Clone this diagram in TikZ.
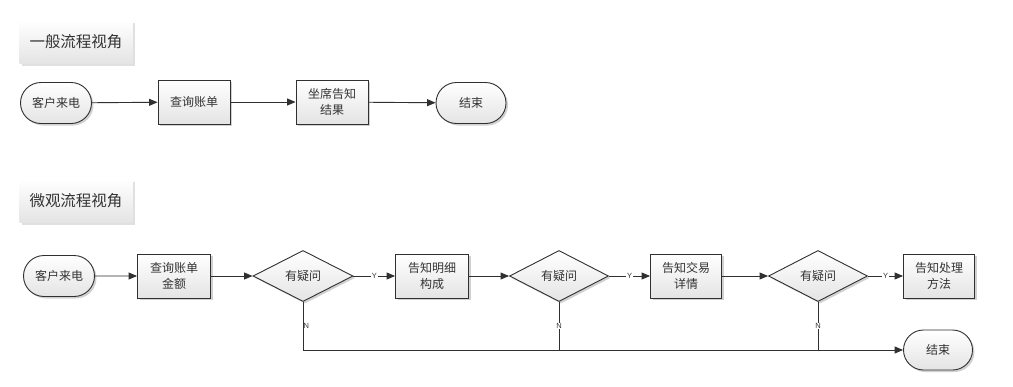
\documentclass[tikz,border=0pt]{standalone}
\usepackage{fontspec}
\setmainfont{Noto Sans CJK SC}
\newfontfamily\cjk{Noto Sans CJK SC}
\newfontfamily\lat{Liberation Sans}
\usetikzlibrary{arrows.meta,shapes.geometric,shapes.misc,shadows,calc}
\definecolor{ln}{HTML}{303030}
\definecolor{tx}{HTML}{333333}
\definecolor{shd}{HTML}{E4E4E4}
\tikzset{
  base/.style={draw=ln, line width=0.9pt, top color=white, bottom color=shd,
    text=tx, font=\cjk\fontsize{12}{15.5}\selectfont, align=center, inner sep=1pt,
    drop shadow={shadow xshift=2pt, shadow yshift=-2pt, opacity=0.18, fill=black}},
  procbox/.style={base, rectangle, minimum width=#1, minimum height=44pt},
  procbox/.default=72pt,
  termbox/.style={base, rounded rectangle, minimum width=72pt, minimum height=41pt},
  decbox/.style={base, diamond, minimum width=99pt, minimum height=44pt},
  titlebox/.style={rectangle, top color=white, bottom color=shd, text=tx,
    font=\cjk\fontsize{15.5}{18}\selectfont, minimum width=113pt, minimum height=43pt,
    drop shadow={shadow xshift=2pt, shadow yshift=-2pt, opacity=0.12, fill=black}},
  conn/.style={draw=ln, line width=0.9pt, -{Triangle[length=8.5pt,width=7pt]}},
  seg/.style={draw=ln, line width=0.9pt},
  lbl/.style={fill=white, inner sep=0.8pt, text=tx, font=\lat\fontsize{7.5}{8}\selectfont}
}
\begin{document}
\begin{tikzpicture}[x=1pt,y=-1pt]
\useasboundingbox[fill=white] (0,0) rectangle (1013,386);
% top
\node[titlebox] (t1) at (76,42) {一般流程视角};
\node[termbox, minimum width=73pt] (a1) at (56,103) {客户来电};
\node[procbox] (a2) at (194,102) {查询账单};
\node[procbox] (a3) at (332,102) {坐席告知\\结果};
\node[termbox] (a4) at (471,103) {结束};
\draw[conn] (a1) -- (a2);
\draw[conn] (a2) -- (a3);
\draw[conn] (a3) -- (a4);
% bottom
\node[titlebox] (t2) at (76,201) {微观流程视角};
\node[termbox, minimum width=73pt] (b1) at (59,276) {客户来电};
\node[procbox=73pt] (b2) at (174,276) {查询账单\\金额};
\node[decbox, minimum width=100pt] (d1) at (303,276) {有疑问};
\node[procbox=73pt] (b3) at (432,276) {告知明细\\构成};
\node[decbox] (d2) at (559,276) {有疑问};
\node[procbox=71pt] (b4) at (686,276) {告知交易\\详情};
\node[decbox] (d3) at (818,276) {有疑问};
\node[procbox=71pt] (b5) at (939,276) {告知处理\\方法};
\node[termbox, minimum width=71pt, minimum height=40pt] (e) at (938,350) {结束};
\draw[conn] (b1) -- (b2);
\draw[conn] (b2) -- (d1);
\draw[conn] (d1) -- node[lbl] {Y} (b3);
\draw[conn] (b3) -- (d2);
\draw[conn] (d2) -- node[lbl] {Y} (b4);
\draw[conn] (b4) -- (d3);
\draw[conn] (d3) -- node[lbl] {Y} (b5);
\draw[conn] (d1.south) -- (d1.south |- e.west) -- (e.west);
\draw[seg] (d2.south) -- (d2.south |- e.west);
\draw[seg] (d3.south) -- (d3.south |- e.west);
\node[lbl, fill=none, anchor=west, inner sep=0.5pt] (n1) at ($(d1.south)+(0,24)$) {N};
\node[lbl] (n2) at (d2.south |- n1) {N};
\node[lbl] (n3) at (d3.south |- n1) {N};
\end{tikzpicture}
\end{document}
